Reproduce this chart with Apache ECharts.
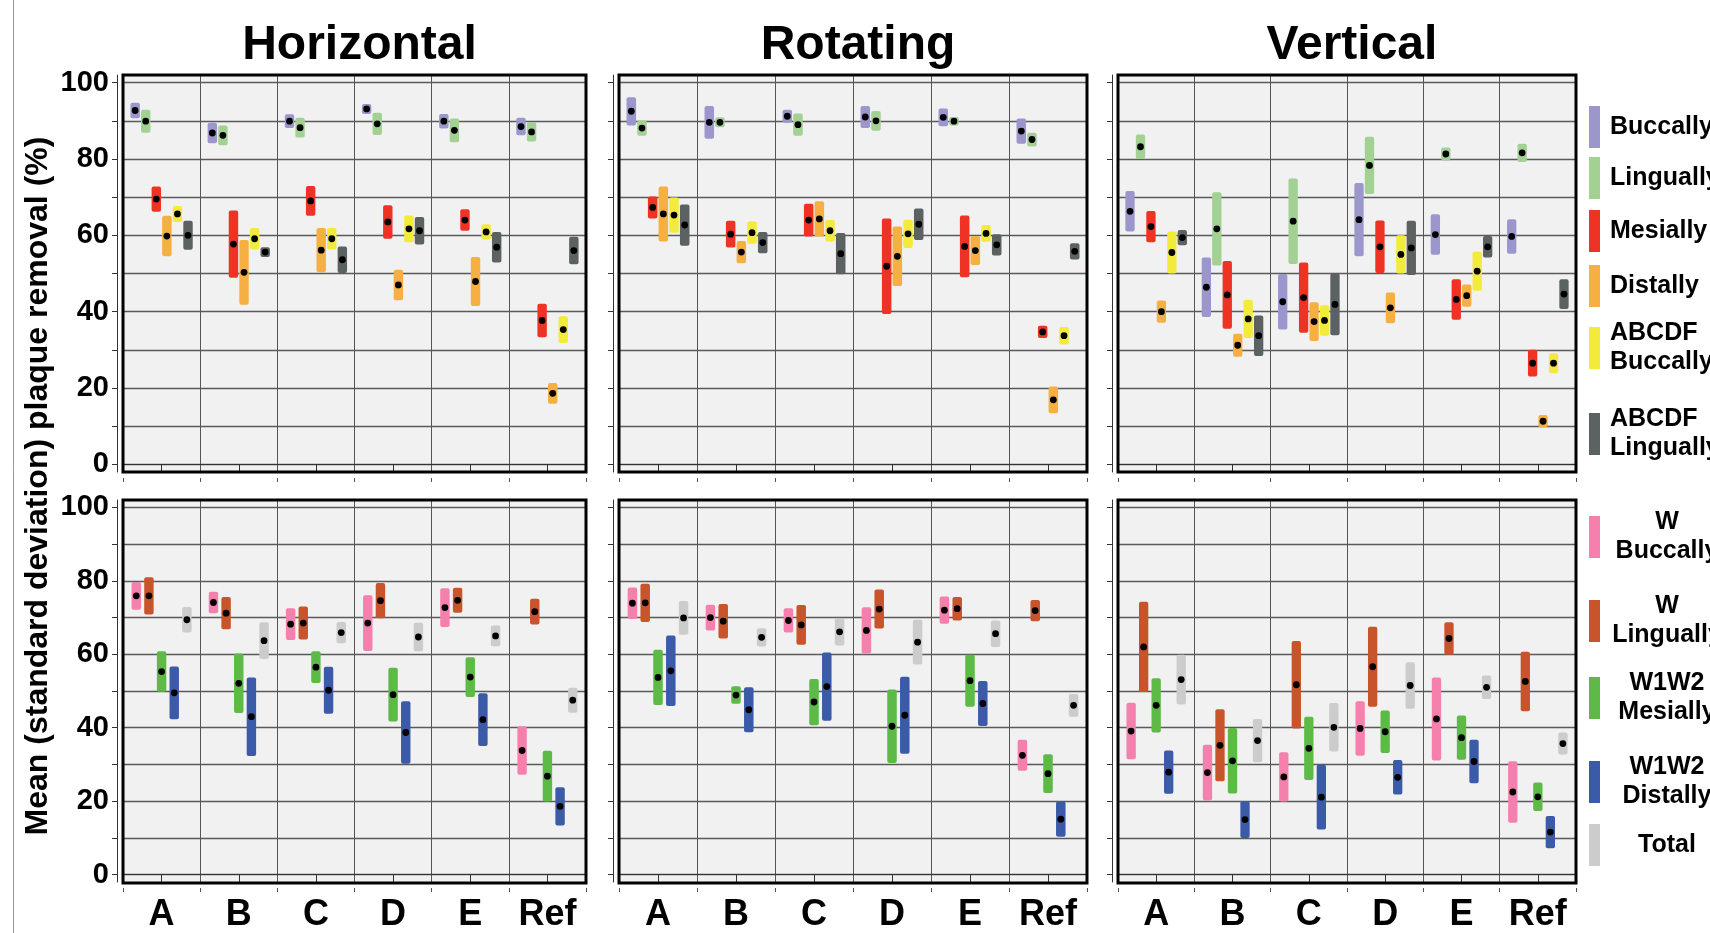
<!DOCTYPE html>
<html><head><meta charset="utf-8">
<script src="https://cdn.jsdelivr.net/npm/echarts@6/dist/echarts.min.js"></script>
<style>html,body{margin:0;padding:0;background:#fff}#c{width:1710px;height:933px}</style>
</head><body><div id="c"></div>
<script>
// ---------------- DATA ----------------
const categories = ['A', 'B', 'C', 'D', 'E', 'Ref'];
const panelTitles = ['Horizontal', 'Rotating', 'Vertical'];
const yTickValues = [0, 10, 20, 30, 40, 50, 60, 70, 80, 90, 100];
const yLabelValues = [0, 20, 40, 60, 80, 100];
const topSeriesNames = ['Buccally', 'Lingually', 'Mesially', 'Distally', 'ABCDF Buccally', 'ABCDF Lingually'];
const bottomSeriesNames = ['W Buccally', 'W Lingually', 'W1W2 Mesially', 'W1W2 Distally', 'Total'];

// each entry: [mean, standard deviation] for A, B, C, D, E, Ref
// Horizontal – top row
const horizontalBuccally       = [[92.7, 2.0], [86.8, 2.7], [89.9, 1.8], [93.1, 1.3], [89.9, 1.9], [88.5, 2.3]];
const horizontalLingually      = [[89.9, 3.0], [86.2, 2.6], [88.2, 2.6], [89.2, 2.9], [87.5, 3.1], [87.1, 2.5]];
const horizontalMesially       = [[69.5, 3.3], [57.7, 8.8], [69.0, 3.9], [63.5, 4.4], [64.0, 2.8], [37.7, 4.4]];
const horizontalDistally       = [[59.8, 5.3], [50.3, 8.5], [56.1, 5.8], [47.0, 4.0], [47.9, 6.4], [18.6, 2.7]];
const horizontalABCDFBuccally  = [[65.6, 2.1], [59.1, 2.8], [59.1, 2.8], [61.7, 3.5], [60.9, 2.0], [35.3, 3.5]];
const horizontalABCDFLingually = [[60.0, 3.8], [55.6, 1.3], [53.6, 3.5], [61.2, 3.6], [56.9, 4.0], [56.0, 3.6]];
// Rotating – top row
const rotatingBuccally       = [[92.5, 3.7], [89.6, 4.3], [91.2, 1.7], [91.0, 2.9], [90.9, 2.3], [87.3, 3.3]];
const rotatingLingually      = [[88.1, 2.0], [89.6, 1.3], [89.0, 2.9], [90.0, 2.6], [89.9, 1.1], [85.1, 1.8]];
const rotatingMesially       = [[67.3, 2.9], [60.3, 3.5], [64.0, 4.3], [51.9, 12.5], [57.1, 8.1], [34.7, 1.6]];
const rotatingDistally       = [[65.6, 7.2], [55.6, 2.9], [64.3, 4.6], [54.5, 7.8], [56.0, 3.8], [16.9, 3.5]];
const rotatingABCDFBuccally  = [[65.3, 4.6], [60.7, 2.9], [61.2, 2.8], [60.4, 3.7], [60.5, 2.2], [33.7, 2.3]];
const rotatingABCDFLingually = [[62.7, 5.4], [58.1, 2.8], [55.2, 5.4], [62.9, 4.1], [57.5, 2.8], [55.8, 2.1]];
// Vertical – top row
const verticalBuccally       = [[66.3, 5.3], [46.4, 7.8], [42.6, 7.3], [64.1, 9.6], [60.2, 5.3], [59.7, 4.5]];
const verticalLingually      = [[83.2, 3.2], [61.7, 9.6], [63.7, 11.2], [78.3, 7.5], [81.3, 1.7], [81.6, 2.4]];
const verticalMesially       = [[62.3, 4.1], [44.4, 8.9], [43.7, 9.2], [57.0, 6.9], [43.2, 5.3], [26.5, 3.5]];
const verticalDistally       = [[40.0, 2.9], [31.2, 3.0], [37.4, 5.1], [41.0, 4.0], [44.2, 2.9], [11.3, 1.6]];
const verticalABCDFBuccally  = [[55.5, 5.5], [38.1, 5.0], [37.7, 4.0], [55.0, 5.0], [50.6, 5.1], [26.5, 2.6]];
const verticalABCDFLingually = [[59.4, 2.0], [33.7, 5.3], [41.9, 8.1], [56.7, 7.1], [57.0, 2.8], [44.6, 3.9]];
// Horizontal – bottom row
const horizontalWBuccally     = [[75.9, 3.8], [74.1, 2.9], [68.2, 4.3], [68.5, 7.6], [72.7, 5.3], [33.8, 6.6]];
const horizontalWLingually    = [[75.9, 5.1], [71.2, 4.4], [68.5, 4.5], [74.6, 4.8], [74.7, 3.4], [71.6, 3.5]];
const horizontalW1W2Mesially  = [[55.3, 5.5], [52.1, 8.1], [56.5, 4.3], [49.0, 7.3], [53.8, 5.4], [26.8, 6.9]];
const horizontalW1W2Distally  = [[49.5, 7.2], [43.0, 10.7], [50.2, 6.4], [38.7, 8.5], [42.2, 7.2], [18.6, 5.2]];
const horizontalTotal         = [[69.4, 3.5], [63.7, 5.0], [65.9, 2.9], [64.7, 3.9], [65.0, 2.8], [47.5, 3.4]];
// Rotating – bottom row
const rotatingWBuccally     = [[73.9, 4.3], [70.0, 3.5], [69.2, 3.3], [66.5, 6.3], [72.0, 3.7], [32.5, 4.2]];
const rotatingWLingually    = [[74.0, 5.2], [69.0, 4.7], [68.0, 5.4], [72.3, 5.3], [72.4, 3.2], [71.9, 2.9]];
const rotatingW1W2Mesially  = [[53.7, 7.5], [48.9, 2.4], [47.0, 6.3], [40.4, 10.0], [52.8, 7.1], [27.5, 5.3]];
const rotatingW1W2Distally  = [[55.5, 9.6], [44.9, 6.1], [51.2, 9.3], [43.4, 10.5], [46.6, 6.1], [15.1, 4.8]];
const rotatingTotal         = [[69.9, 4.6], [64.6, 2.5], [66.1, 3.7], [63.3, 6.1], [65.6, 3.6], [46.1, 3.1]];
// Vertical – bottom row
const verticalWBuccally     = [[39.1, 7.7], [27.8, 7.6], [26.6, 6.7], [39.8, 7.4], [42.4, 11.3], [22.5, 8.4]];
const verticalWLingually    = [[62.0, 12.3], [35.2, 9.8], [51.7, 11.9], [56.6, 10.9], [64.3, 4.4], [52.6, 8.1]];
const verticalW1W2Mesially  = [[46.1, 7.4], [31.0, 8.9], [34.4, 8.6], [38.9, 5.8], [37.3, 6.0], [21.2, 3.9]];
const verticalW1W2Distally  = [[27.9, 5.9], [15.0, 5.0], [21.1, 8.8], [26.5, 4.7], [30.8, 5.9], [11.6, 4.4]];
const verticalTotal         = [[53.1, 6.8], [36.5, 5.9], [40.1, 6.6], [51.5, 6.3], [51.0, 3.2], [35.7, 3.0]];

// ---------------- STYLE / LAYOUT ----------------
const FONT = 'Liberation Sans, Arial, sans-serif';
const topColors = ['#9b97cc', '#a2d193', '#ee3224', '#f5b041', '#f2eb3c', '#5b6261'];
const bottomColors = ['#f580ad', '#c8542b', '#5dba47', '#3b5ba8', '#cccccc'];

const topRowData = [
  [horizontalBuccally, horizontalLingually, horizontalMesially, horizontalDistally, horizontalABCDFBuccally, horizontalABCDFLingually],
  [rotatingBuccally, rotatingLingually, rotatingMesially, rotatingDistally, rotatingABCDFBuccally, rotatingABCDFLingually],
  [verticalBuccally, verticalLingually, verticalMesially, verticalDistally, verticalABCDFBuccally, verticalABCDFLingually]
];
const bottomRowData = [
  [horizontalWBuccally, horizontalWLingually, horizontalW1W2Mesially, horizontalW1W2Distally, horizontalTotal],
  [rotatingWBuccally, rotatingWLingually, rotatingW1W2Mesially, rotatingW1W2Distally, rotatingTotal],
  [verticalWBuccally, verticalWLingually, verticalW1W2Mesially, verticalW1W2Distally, verticalTotal]
];

const colLeft = [123, 619, 1118];
const colWidth = [463, 468, 458];
const rowTop = [75, 500];
const rowHeight = [397, 383];

function rangeRenderer(slot, nSlots, spacing, widthFrac, color) {
  return function (params, api) {
    const c = api.value(0), m = api.value(1), s = api.value(2);
    const band = api.size([1, 0])[0];
    const dx = (slot - (nSlots - 1) / 2) * band * spacing;
    const hi = api.coord([c, m + s]);
    const lo = api.coord([c, m - s]);
    const mid = api.coord([c, m]);
    const w = band * widthFrac;
    const x = mid[0] + dx;
    return {
      type: 'group',
      children: [
        { type: 'rect', shape: { x: x - w / 2, y: hi[1], width: w, height: lo[1] - hi[1], r: 2 }, style: { fill: color } },
        { type: 'circle', shape: { cx: x, cy: mid[1], r: 3.4 }, style: { fill: '#000' } }
      ]
    };
  };
}

const grids = [], xAxes = [], yAxes = [], series = [], titles = [], graphics = [];
for (let row = 0; row < 2; row++) {
  for (let col = 0; col < 3; col++) {
    const gi = row * 3 + col;
    grids.push({
      left: colLeft[col], top: rowTop[row], width: colWidth[col], height: rowHeight[row],
      show: true, backgroundColor: '#f1f1f1', borderWidth: 0
    });
    xAxes.push({
      type: 'category', gridIndex: gi, data: categories, boundaryGap: true, position: 'bottom', offset: 6,
      axisLine: { show: true, lineStyle: { color: '#333', width: 1 } },
      axisTick: { show: true, alignWithLabel: true, length: 8, interval: 0, lineStyle: { color: '#333' } },
      axisLabel: { show: row === 1, interval: 0, fontSize: 36, fontWeight: 'bold', color: '#000', margin: 9, fontFamily: FONT },
      splitLine: { show: true, interval: 0, lineStyle: { color: '#555', width: 1 } }
    });
    xAxes.push({
      type: 'category', gridIndex: gi, data: categories, boundaryGap: true, position: 'bottom', offset: 6,
      axisLine: { show: false },
      axisTick: { show: true, length: 4, interval: 0, lineStyle: { color: '#555' } },
      axisLabel: { show: false }, splitLine: { show: false }
    });
    yAxes.push({
      type: 'value', gridIndex: gi, min: -2, max: 102, offset: 6,
      axisLine: { show: true, lineStyle: { color: '#333', width: 1 } },
      axisTick: { show: true, length: 5, customValues: yTickValues, lineStyle: { color: '#333' } },
      axisLabel: { show: col === 0, customValues: yLabelValues, fontSize: 29, fontWeight: 'bold', color: '#000', margin: 8, fontFamily: FONT },
      splitLine: { show: true, lineStyle: { color: '#5a5a5a', width: 1.3 } }
    });
    const names = row === 0 ? topSeriesNames : bottomSeriesNames;
    const colors = row === 0 ? topColors : bottomColors;
    const sets = row === 0 ? topRowData[col] : bottomRowData[col];
    const spacing = row === 0 ? 0.137 : 0.164;
    names.forEach((name, si) => {
      series.push({
        type: 'custom', name: name, xAxisIndex: gi * 2, yAxisIndex: gi,
        itemStyle: { color: colors[si] },
        encode: { x: 0, y: 1 },
        renderItem: rangeRenderer(si, names.length, spacing, 0.122, colors[si]),
        data: sets[si].map((d, ci) => [ci, d[0], d[1]])
      });
    });
    graphics.push({
      type: 'rect', z: 100, silent: true,
      shape: { x: colLeft[col], y: rowTop[row], width: colWidth[col], height: rowHeight[row] },
      style: { fill: 'none', stroke: '#000', lineWidth: 3 }
    });
    if (row === 0) {
      titles.push({
        text: panelTitles[col], left: colLeft[col] + colWidth[col] / 2, top: 17, textAlign: 'center',
        textStyle: { fontSize: 48, fontWeight: 'bold', color: '#000', fontFamily: FONT }
      });
    }
  }
}

graphics.push({ type: 'line', shape: { x1: 13.5, y1: 0, x2: 13.5, y2: 933 }, style: { stroke: '#999', lineWidth: 1 } });
graphics.push({
  type: 'text', x: 38, y: 486, rotation: Math.PI / 2,
  style: { text: 'Mean (standard deviation) plaque removal (%)', fontSize: 32, fontWeight: 'bold', fontFamily: FONT, fill: '#000', align: 'center', verticalAlign: 'middle' }
});

const legendLabel = {
  'Buccally': ['Buccally'], 'Lingually': ['Lingually'], 'Mesially': ['Mesially'], 'Distally': ['Distally'],
  'ABCDF Buccally': ['ABCDF', 'Buccally'], 'ABCDF Lingually': ['ABCDF', 'Lingually'],
  'W Buccally': ['W', 'Buccally'], 'W Lingually': ['W', 'Lingually'], 'W1W2 Mesially': ['W1W2', 'Mesially'],
  'W1W2 Distally': ['W1W2', 'Distally'], 'Total': ['Total']
};
const topLegendTops = [106, 157, 210, 265, 321, 407];
const bottomLegendTops = [510, 594, 671, 755, 824];
const legends = [];
topSeriesNames.forEach((n, i) => legends.push({
  data: [n], left: 1589, top: topLegendTops[i], padding: 0, orient: 'vertical', icon: 'rect',
  itemWidth: 11, itemHeight: 42, selectedMode: false,
  formatter: nm => legendLabel[nm].map(s => '{t|' + s + '}').join('\n'),
  textStyle: { rich: { t: { fontSize: 25, fontWeight: 'bold', fontFamily: FONT, color: '#000', lineHeight: 29, padding: [0, 0, 0, 5] } } }
}));
bottomSeriesNames.forEach((n, i) => legends.push({
  data: [n], left: 1589, top: bottomLegendTops[i], padding: 0, orient: 'vertical', icon: 'rect',
  itemWidth: 11, itemHeight: 42, selectedMode: false,
  formatter: nm => legendLabel[nm].map(s => '{c|' + s + '}').join('\n'),
  textStyle: { rich: { c: { fontSize: 25, fontWeight: 'bold', fontFamily: FONT, color: '#000', lineHeight: 29, width: 124, align: 'center' } } }
}));

const chart = echarts.init(document.getElementById('c'), null, { renderer: 'canvas' });
chart.setOption({
  animation: false,
  backgroundColor: '#fff',
  title: titles,
  legend: legends,
  grid: grids,
  xAxis: xAxes,
  yAxis: yAxes,
  series: series,
  graphic: graphics
});
</script></body></html>
